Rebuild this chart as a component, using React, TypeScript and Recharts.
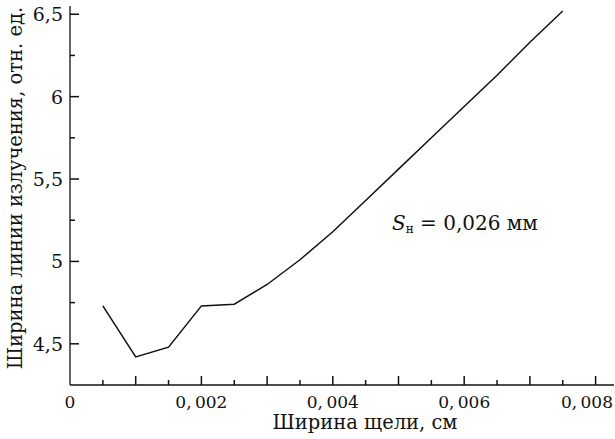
import { Line, LineChart, XAxis, YAxis } from "recharts";

// ширина щели, см
const slitWidth = [
  0.0005, 0.001, 0.0015, 0.002, 0.0025, 0.003, 0.0035, 0.004, 0.0045, 0.005,
  0.0055, 0.006, 0.0065, 0.007, 0.0075,
];
// ширина линии излучения, отн. ед.
const emissionWidth = [
  4.73, 4.42, 4.48, 4.73, 4.74, 4.86, 5.01, 5.18, 5.37, 5.56, 5.75, 5.94, 6.13,
  6.33, 6.52,
];

// major ticks every 0.001, minor halfway, labels every 0.002
const xTicks = [
  0, 0.0005, 0.001, 0.0015, 0.002, 0.0025, 0.003, 0.0035, 0.004, 0.0045, 0.005,
  0.0055, 0.006, 0.0065, 0.007, 0.0075, 0.008,
];
const yTicks = [4.5, 4.75, 5, 5.25, 5.5, 5.75, 6, 6.25, 6.5];

const xTitle = "Ширина щели, см";
const yTitle = "Ширина линии излучения, отн. ед.";

const data = slitWidth.map((x, i) => ({ x, y: emissionWidth[i] }));

const FONT = "'DejaVu Serif', serif";
const INK = "#111";
const X_DOMAIN: [number, number] = [0, 0.00828];
const Y_DOMAIN: [number, number] = [4.25, 6.55];

const XTick = (props: any) => {
  const { x, y, payload } = props;
  const v = payload.value;
  const k = Math.round(v / 0.0005);
  const major = k % 2 === 0;
  const label = k % 4 !== 0 ? null : k === 0 ? "0" : v.toFixed(3).replace(".", ",\u2009");
  // last label is pulled inside the picture, as in the source
  const last = v === xTicks[xTicks.length - 1];
  return (
    <g>
      {k !== 0 && (
        <line x1={x} y1={y} x2={x} y2={y - (major ? 9 : 5)} stroke={INK} strokeWidth={1.5} />
      )}
      {label && (
        <text
          x={last ? 613 : x}
          y={y + 23}
          textAnchor={last ? "end" : "middle"}
          fontFamily={FONT}
          fontSize={17}
          fill={INK}
        >
          {label}
        </text>
      )}
    </g>
  );
};

const YTick = (props: any) => {
  const { x, y, payload } = props;
  const v = payload.value;
  const k = Math.round((v - 4.5) / 0.25);
  const major = k % 2 === 0;
  const label = !major ? null : Number.isInteger(v) ? String(v) : v.toFixed(1).replace(".", ",");
  return (
    <g>
      <line x1={x} y1={y} x2={x + (major ? 9 : 5)} y2={y} stroke={INK} strokeWidth={1.5} />
      {label && (
        <text x={x - 7} y={y + 7} textAnchor="end" fontFamily={FONT} fontSize={19} fill={INK}>
          {label}
        </text>
      )}
    </g>
  );
};

export default function App() {
  return (
    <div style={{ position: "absolute", left: 0, top: 0, width: 615, height: 439, background: "#fff" }}>
      <LineChart width={615} height={439} data={data} margin={{ top: 6, right: 1, left: 0, bottom: 0 }}>
        <XAxis
          dataKey="x"
          type="number"
          domain={X_DOMAIN}
          ticks={xTicks}
          interval={0}
          height={54}
          tickSize={0}
          tickMargin={0}
          tickLine={false}
          axisLine={{ stroke: INK, strokeWidth: 1.3 }}
          tick={<XTick />}
          label={() => (
            <text x={365} y={429} textAnchor="middle" fontFamily={FONT} fontSize={19.5} fill={INK}>
              {xTitle}
            </text>
          )}
        />
        <YAxis
          dataKey="y"
          type="number"
          domain={Y_DOMAIN}
          ticks={yTicks}
          interval={0}
          width={70}
          tickSize={0}
          tickMargin={0}
          tickLine={false}
          axisLine={{ stroke: INK, strokeWidth: 1.3 }}
          tick={<YTick />}
          label={() => (
            <text
              x={0}
              y={0}
              transform="translate(22 188) rotate(-90)"
              textAnchor="middle"
              fontFamily={FONT}
              fontSize={19.5}
              fill={INK}
            >
              {yTitle}
            </text>
          )}
        />
        <Line
          type="linear"
          dataKey="y"
          stroke={INK}
          strokeWidth={1.5}
          dot={false}
          isAnimationActive={false}
        />
      </LineChart>
      <div
        style={{
          position: "absolute",
          left: 392,
          top: 211,
          fontFamily: FONT,
          fontSize: 20,
          color: INK,
          whiteSpace: "nowrap",
        }}
      >
        <i>S</i>
        <span style={{ fontSize: 12, verticalAlign: "-3px" }}>н</span> = 0,026 мм
      </div>
    </div>
  );
}
